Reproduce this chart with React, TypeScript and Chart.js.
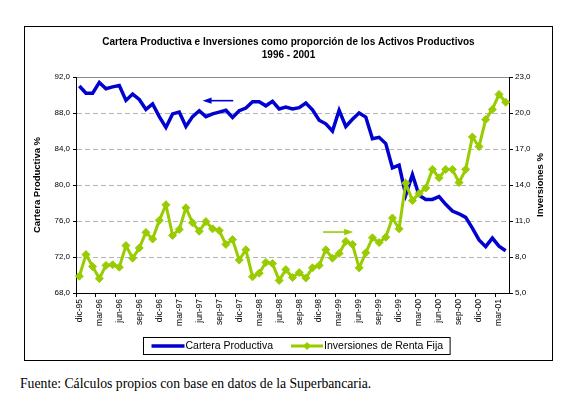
import React, { useEffect, useRef } from 'react';
import { Chart, registerables } from 'chart.js';

Chart.register(...registerables);

const categories = [
  'dic-95',
  'ene-96', 'feb-96', 'mar-96', 'abr-96', 'may-96', 'jun-96', 'jul-96', 'ago-96', 'sep-96', 'oct-96', 'nov-96', 'dic-96',
  'ene-97', 'feb-97', 'mar-97', 'abr-97', 'may-97', 'jun-97', 'jul-97', 'ago-97', 'sep-97', 'oct-97', 'nov-97', 'dic-97',
  'ene-98', 'feb-98', 'mar-98', 'abr-98', 'may-98', 'jun-98', 'jul-98', 'ago-98', 'sep-98', 'oct-98', 'nov-98', 'dic-98',
  'ene-99', 'feb-99', 'mar-99', 'abr-99', 'may-99', 'jun-99', 'jul-99', 'ago-99', 'sep-99', 'oct-99', 'nov-99', 'dic-99',
  'ene-00', 'feb-00', 'mar-00', 'abr-00', 'may-00', 'jun-00', 'jul-00', 'ago-00', 'sep-00', 'oct-00', 'nov-00', 'dic-00',
  'ene-01', 'feb-01', 'mar-01', 'abr-01',
];

const carteraProductiva = [
  91.0,
  90.2, 90.2, 91.4, 90.7, 90.9, 91.05, 89.4, 90.1, 89.5, 88.4, 89.0, 87.6,
  86.4, 87.9, 88.1, 86.5, 87.6, 88.25, 87.6, 87.9, 88.1, 88.3, 87.5, 88.25,
  88.55, 89.25, 89.25, 88.8, 89.3, 88.45, 88.65, 88.45, 88.6, 89.1, 88.35, 87.2,
  86.8, 86.0, 88.3, 86.5, 87.3, 88.0, 87.55, 85.15, 85.3, 84.6, 81.9, 82.2,
  78.9, 81.15, 78.85, 78.4, 78.4, 78.7, 77.85, 77.1, 76.8, 76.4, 75.2, 73.9,
  73.15, 74.1, 73.2, 72.7,
];

const inversionesRentaFija = [
  6.4,
  8.2, 7.2, 6.2, 7.3, 7.35, 7.15, 8.95, 7.9, 8.75, 10.05, 9.5, 11.05,
  12.35, 9.8, 10.3, 12.1, 10.85, 10.15, 10.95, 10.35, 10.2, 9.05, 9.45, 7.75,
  8.6, 6.35, 6.65, 7.55, 7.45, 6.05, 6.95, 6.3, 6.7, 6.25, 7.1, 7.3,
  8.6, 7.9, 8.3, 9.3, 9.05, 7.1, 8.35, 9.6, 9.2, 9.65, 11.25, 10.35,
  14.15, 12.7, 13.3, 13.75, 15.3, 14.6, 15.3, 15.3, 14.2, 15.3, 18.0, 17.2,
  19.45, 20.3, 21.55, 20.9,
];

const titleLines = ['Cartera Productiva e Inversiones como proporción de los Activos Productivos', '1996 - 2001'];
const leftAxisTitle = 'Cartera Productiva %';
const rightAxisTitle = 'Inversiones %';
const seriesNames = ['Cartera Productiva', 'Inversiones de Renta Fija'];
const leftRange = [68, 92, 4];
const rightRange = [5, 23, 3];
const footnote = 'Fuente: Cálculos propios con base en datos de la Superbancaria.';

// annotation arrows: [axis, from category position, to category position, value]
const arrowNotes: [string, number, number, number][] = [
  ['y', 23.1, 18.5, 89.37],
  ['y1', 36.6, 41.1, 10.08],
];

const BLUE = '#0000D0';
const GREEN = '#99CC00';
const FONT = "'Liberation Sans', Arial, Helvetica, sans-serif";

export default function App() {
  const ref = useRef<HTMLCanvasElement>(null);

  useEffect(() => {
    const canvas = ref.current;
    if (!canvas) return;
    const fmt = (v: number) => Number(v).toFixed(1).replace('.', ',');

    const overlay = {
      id: 'overlay',
      afterDatasetsDraw(chart: any) {
        const ctx = chart.ctx;
        const xs = chart.scales.x;
        arrowNotes.forEach(([axis, from, to, val], k) => {
          const ys = chart.scales[axis];
          const x1 = xs.getPixelForValue(from);
          const x2 = xs.getPixelForValue(to);
          const y = ys.getPixelForValue(val);
          const color = k === 0 ? BLUE : GREEN;
          const dir = Math.sign(x2 - x1);
          const head = 9;
          ctx.save();
          ctx.strokeStyle = color;
          ctx.fillStyle = color;
          ctx.lineWidth = 1.6;
          ctx.beginPath();
          ctx.moveTo(x1, y);
          ctx.lineTo(x2 - dir * head * 0.6, y);
          ctx.stroke();
          ctx.beginPath();
          ctx.moveTo(x2, y);
          ctx.lineTo(x2 - dir * head, y - 3.2);
          ctx.lineTo(x2 - dir * head, y + 3.2);
          ctx.closePath();
          ctx.fill();
          ctx.restore();
        });
      },
      afterDraw(chart: any) {
        const ctx = chart.ctx;
        const area = chart.chartArea;
        // right axis title
        ctx.save();
        ctx.fillStyle = '#000';
        ctx.font = `bold 9.5px ${FONT}`;
        ctx.textAlign = 'center';
        ctx.textBaseline = 'middle';
        ctx.translate(area.right + 31, (area.top + area.bottom) / 2);
        ctx.rotate(-Math.PI / 2);
        ctx.fillText(rightAxisTitle, 0, 0);
        ctx.restore();

        // legend
        ctx.save();
        ctx.font = `10.5px ${FONT}`;
        const w1 = ctx.measureText(seriesNames[0]).width;
        const w2 = ctx.measureText(seriesNames[1]).width;
        const total = 8 + 33 + 1 + w1 + 18 + 32 + 1 + w2 + 7;
        const left = Math.round((area.left + area.right) / 2 + 4 - total / 2) + 0.5;
        const top = area.bottom + 44 + 0.5;
        const h = 17;
        ctx.strokeStyle = '#000';
        ctx.lineWidth = 1;
        ctx.strokeRect(left, top, total, h);
        const cy = top + h / 2;
        let x = left + 8;
        ctx.strokeStyle = BLUE;
        ctx.lineWidth = 3.5;
        ctx.beginPath();
        ctx.moveTo(x, cy);
        ctx.lineTo(x + 33, cy);
        ctx.stroke();
        x += 34;
        ctx.fillStyle = '#000';
        ctx.textAlign = 'left';
        ctx.textBaseline = 'middle';
        ctx.fillText(seriesNames[0], x, cy + 0.5);
        x += w1 + 18;
        ctx.strokeStyle = GREEN;
        ctx.lineWidth = 3;
        ctx.beginPath();
        ctx.moveTo(x, cy);
        ctx.lineTo(x + 32, cy);
        ctx.stroke();
        ctx.fillStyle = GREEN;
        ctx.beginPath();
        ctx.moveTo(x + 16, cy - 4);
        ctx.lineTo(x + 20, cy);
        ctx.lineTo(x + 16, cy + 4);
        ctx.lineTo(x + 12, cy);
        ctx.closePath();
        ctx.fill();
        x += 33;
        ctx.fillStyle = '#000';
        ctx.fillText(seriesNames[1], x, cy + 0.5);
        ctx.restore();
      },
    };

    const chart = new Chart(canvas, {
      type: 'line',
      data: {
        labels: categories,
        datasets: [
          {
            label: seriesNames[0],
            data: carteraProductiva,
            yAxisID: 'y',
            borderColor: BLUE,
            backgroundColor: BLUE,
            borderWidth: 3.5,
            pointRadius: 0,
            tension: 0,
            order: 1,
          },
          {
            label: seriesNames[1],
            data: inversionesRentaFija,
            yAxisID: 'y1',
            borderColor: GREEN,
            backgroundColor: GREEN,
            borderWidth: 3,
            pointStyle: 'rectRot',
            pointRadius: 4,
            pointBorderWidth: 1,
            pointBackgroundColor: GREEN,
            pointBorderColor: GREEN,
            tension: 0,
            order: 0,
          },
        ],
      },
      options: {
        responsive: false,
        maintainAspectRatio: false,
        animation: false,
        devicePixelRatio: 1,
        layout: { padding: 0 },
        plugins: {
          legend: { display: false },
          tooltip: { enabled: false },
          title: {
            display: true,
            text: titleLines,
            color: '#000',
            font: { family: FONT, size: 10, weight: 'bold', lineHeight: 1.3 },
            padding: { top: 8.5, bottom: 15.5 },
          },
        },
        scales: {
          x: {
            type: 'category',
            offset: true,
            grid: {
              display: true,
              drawOnChartArea: false,
              offset: true,
              tickLength: 4,
              lineWidth: 1,
              tickColor: (c: any) => (c.index % 3 === 0 ? '#000' : 'rgba(0,0,0,0)'),
            },
            border: { display: true, color: '#000', width: 1 },
            ticks: {
              autoSkip: false,
              maxRotation: 90,
              minRotation: 90,
              padding: 2,
              color: '#000',
              font: { family: FONT, size: 8.5 },
              callback: (_v: any, i: number) => (i % 3 === 0 ? categories[i] : ''),
            },
            afterFit: (s: any) => {
              s.height = 67;
            },
          },
          y: {
            position: 'left',
            min: leftRange[0],
            max: leftRange[1],
            ticks: {
              stepSize: leftRange[2],
              color: '#000',
              padding: 3,
              font: { family: FONT, size: 8 },
              callback: (v: any) => fmt(v),
            },
            grid: {
              color: (c: any) => (c.tick && c.tick.value === leftRange[1] ? '#8c8c8c' : '#b4b4b4'),
              tickColor: '#000',
              tickLength: 3,
              lineWidth: 1,
            },
            border: {
              display: true,
              color: '#000',
              width: 1,
              dash: (c: any) => (!c.tick || c.tick.value === leftRange[1] ? [] : [5, 3]),
            },
            title: {
              display: true,
              text: leftAxisTitle,
              color: '#000',
              font: { family: FONT, size: 9.5, weight: 'bold' },
              padding: { top: 7, bottom: 0 },
            },
            afterFit: (s: any) => {
              s.width = 51;
            },
          },
          y1: {
            position: 'right',
            min: rightRange[0],
            max: rightRange[1],
            ticks: {
              stepSize: rightRange[2],
              color: '#000',
              padding: 2,
              font: { family: FONT, size: 8 },
              callback: (v: any) => fmt(v),
            },
            grid: {
              drawOnChartArea: false,
              tickColor: '#000',
              tickLength: 4,
            },
            border: { display: true, color: '#000', width: 1 },
            afterFit: (s: any) => {
              s.width = 43;
            },
          },
        },
      },
      plugins: [overlay],
    } as any);

    return () => chart.destroy();
  }, []);

  return (
    <div style={{ position: 'absolute', left: 0, top: 0, width: 576, height: 398, background: '#fff' }}>
      <div
        style={{
          position: 'absolute',
          left: 24,
          top: 26,
          width: 529,
          height: 335,
          border: '1px solid #000',
          boxSizing: 'border-box',
        }}
      >
        <canvas ref={ref} width={527} height={333} style={{ display: 'block' }} />
      </div>
      <div
        style={{
          position: 'absolute',
          left: 20,
          top: 376.5,
          fontFamily: "'Liberation Serif', 'Times New Roman', serif",
          fontSize: 13.7,
          lineHeight: 1,
          whiteSpace: 'nowrap',
          color: '#000',
        }}
      >
        {footnote}
      </div>
    </div>
  );
}
